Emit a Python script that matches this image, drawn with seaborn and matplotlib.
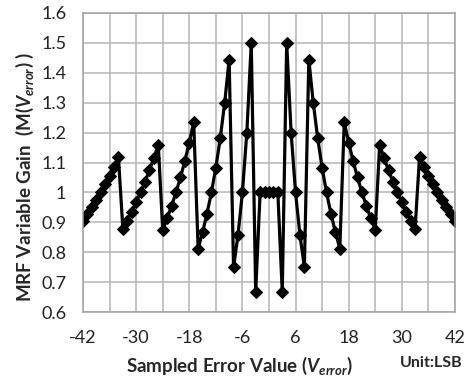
import pandas as pd
import seaborn as sns
import matplotlib.pyplot as plt

# sampled error value (LSB)
x_vals = [-42, -41, -40, -39, -38, -37, -36, -35, -34,
          -33, -32, -31, -30, -29, -28, -27, -26, -25,
          -24, -23, -22, -21, -20, -19, -18, -17,
          -16, -15, -14, -13, -12, -11, -10, -9,
          -8, -7, -6, -5, -4,
          -3, -2, -1, 0, 1, 2, 3,
          4, 5, 6, 7, 8,
          9, 10, 11, 12, 13, 14, 15, 16,
          17, 18, 19, 20, 21, 22, 23, 24,
          25, 26, 27, 28, 29, 30, 31, 32, 33,
          34, 35, 36, 37, 38, 39, 40, 41, 42]

# MRF variable gain
gain = [0.905, 0.927, 0.950, 0.974, 1.000, 1.027, 1.056, 1.086, 1.118,
        0.879, 0.906, 0.935, 0.967, 1.000, 1.036, 1.074, 1.115, 1.160,
        0.875, 0.913, 0.955, 1.000, 1.050, 1.105, 1.167, 1.235,
        0.8125, 0.867, 0.929, 1.000, 1.083, 1.182, 1.300, 1.444,
        0.750, 0.857, 1.000, 1.200, 1.500,
        0.667, 1.000, 1.000, 1.000, 1.000, 1.000, 0.667,
        1.500, 1.200, 1.000, 0.857, 0.750,
        1.444, 1.300, 1.182, 1.083, 1.000, 0.929, 0.867, 0.8125,
        1.235, 1.167, 1.105, 1.050, 1.000, 0.955, 0.913, 0.875,
        1.160, 1.115, 1.074, 1.036, 1.000, 0.967, 0.935, 0.906, 0.879,
        1.118, 1.086, 1.056, 1.027, 1.000, 0.974, 0.950, 0.927, 0.905]

x_ticks = [-42, -30, -18, -6, 6, 18, 30, 42]
y_ticks = [0.6, 0.7, 0.8, 0.9, 1.0, 1.1, 1.2, 1.3, 1.4, 1.5, 1.6]
y_labels = ['0.6', '0.7', '0.8', '0.9', '1', '1.1', '1.2', '1.3', '1.4', '1.5', '1.6']

df = pd.DataFrame({'x': x_vals, 'gain': gain})

sns.set_style('white')
plt.rcParams['font.family'] = ['Lato', 'DejaVu Sans']
plt.rcParams['mathtext.fontset'] = 'custom'
plt.rcParams['mathtext.rm'] = 'Lato:bold'
plt.rcParams['mathtext.it'] = 'Lato:italic:bold'

fig = plt.figure(figsize=(4.69, 3.82), dpi=100)
ax = fig.add_axes([0.177, 0.183, 0.793, 0.783])

sns.lineplot(data=df, x='x', y='gain', ax=ax, color='black', linewidth=2.3,
             marker='D', markersize=6, markeredgecolor='black')

ax.set_xlim(-42, 42)
ax.set_ylim(0.6, 1.6)
ax.set_xticks(list(range(-42, 43, 6)))
ax.set_xticklabels([str(v) if v in x_ticks else '' for v in range(-42, 43, 6)])
ax.set_yticks(y_ticks)
ax.set_yticklabels(y_labels)
ax.grid(True, color='#b4b4b4', linewidth=1.1)
ax.set_axisbelow(True)
for s in ax.spines.values():
    s.set_color('#a0a0a0')
    s.set_linewidth(1.1)
ax.tick_params(length=0, labelsize=13, colors='#222222')
ax.tick_params(axis='x', pad=13)
ax.tick_params(axis='y', pad=12)
ax.set_xlabel('')
ax.set_ylabel('')

fig.text(0.51, 0.043, r'Sampled Error Value ($V_{error}$)', ha='center', va='center',
         fontsize=13.5, fontweight='bold')
fig.text(0.92, 0.05, 'Unit:LSB', ha='center', va='center', fontsize=11.5, fontweight='bold')
fig.text(0.053, 0.537, r'MRF Variable Gain  (M($V_{error}$) )', ha='center', va='center',
         rotation=90, fontsize=13.5, fontweight='bold')

fig.savefig('out.png', dpi=100)
